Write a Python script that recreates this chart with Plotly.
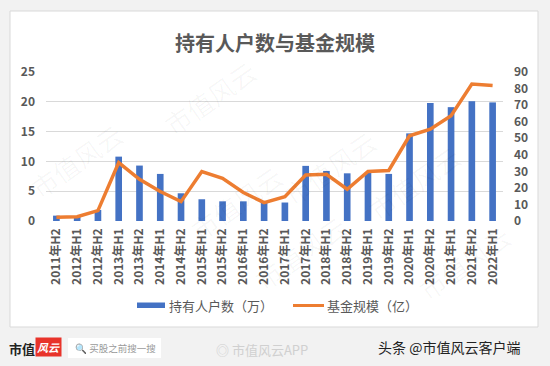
import plotly.graph_objects as go

categories = ["2011年H2", "2012年H1", "2012年H2", "2013年H1", "2013年H2", "2014年H1",
              "2014年H2", "2015年H1", "2015年H2", "2016年H1", "2016年H2", "2017年H1",
              "2017年H2", "2018年H1", "2018年H2", "2019年H1", "2019年H2", "2020年H1",
              "2020年H2", "2021年H1", "2021年H2", "2022年H1"]
holders = [0.9, 0.8, 1.85, 10.8, 9.3, 7.9, 4.65, 3.65, 3.3, 3.3, 3.25, 3.1,
           9.25, 8.4, 8.0, 8.1, 7.9, 14.7, 19.8, 19.1, 20.1, 19.9]
fund_size = [2.2, 2.6, 6.3, 35.3, 25.2, 17.8, 11.7, 29.9, 25.8, 17.2, 11.1, 14.7,
             27.8, 28.2, 19.2, 29.9, 30.5, 51.5, 55.5, 63.6, 82.7, 81.9]
left_ticks = [0, 5, 10, 15, 20, 25]
right_ticks = [0, 10, 20, 30, 40, 50, 60, 70, 80, 90]
series_names = ["持有人户数（万）", "基金规模（亿）"]

FONT = "Noto Sans CJK SC"
BLUE, ORANGE = "#4472C4", "#ED7D31"
W, H = 550, 366
L, R, T, B = 46, 47, 72, 145
PW, PH = W - L - R, H - T - B

def px_x(x):
    return (x - L) / PW

def px_y(y):
    return (H - B - y) / PH

fig = go.Figure()
fig.add_trace(go.Bar(x=categories, y=holders, name=series_names[0],
                     marker=dict(color=BLUE, line=dict(width=0)), yaxis="y"))
fig.add_trace(go.Scatter(x=categories, y=fund_size, name=series_names[1], mode="lines",
                         line=dict(color=ORANGE, width=3.5), yaxis="y2"))

annotations = [
    dict(text="<b>持有人户数与基金规模</b>", x=275, y=42, font=dict(size=20, color="#595959", family=FONT)),
    dict(text=series_names[0], x=167, y=305, xanchor="left", font=dict(size=13, color="#595959", family=FONT)),
    dict(text=series_names[1], x=325, y=305, xanchor="left", font=dict(size=13, color="#595959", family=FONT)),
    dict(text="<b>市值</b>", x=22, y=348, font=dict(size=13, color="#222222", family=FONT)),
    dict(text="<b><i>风云</i></b>", x=48, y=347, font=dict(size=11, color="#ffffff", family=FONT),
         bgcolor="#e8332a", borderpad=1),
    dict(text="🔍 买股之前搜一搜", x=115, y=348, font=dict(size=9.5, color="#9a9a9a", family=FONT)),
    dict(text="◎ 市值风云APP", x=262, y=349, font=dict(size=13, color="#d0d0d0", family=FONT)),
    dict(text="头条 @市值风云客户端", x=449, y=347, font=dict(size=14, color="#222222", family=FONT)),
]
ann = []
for a in annotations:
    d = dict(a)
    d["x"] = px_x(a["x"])
    d["y"] = px_y(a["y"])
    d.setdefault("xanchor", "center")
    d.update(xref="paper", yref="paper", showarrow=False, yanchor="middle")
    ann.append(d)

# faint watermarks
for (wx, wy) in [(20, 160), (210, 50), (180, 250), (330, 120), (470, 230), (300, 300), (520, 310)]:
    ann.append(dict(text="市值风云", x=px_x(wx), y=px_y(wy), xref="paper", yref="paper",
                    showarrow=False, textangle=-35, font=dict(size=26, color="rgba(0,0,0,0.035)", family=FONT)))

tickfont = dict(size=12, color="#595959", family=FONT, weight="bold")

fig.update_layout(
    width=W, height=H,
    margin=dict(l=L, r=R, t=T, b=B, autoexpand=False),
    paper_bgcolor="#f2f2f2",
    plot_bgcolor="#ffffff",
    font=dict(family=FONT, color="#595959"),
    bargap=0.68,
    showlegend=False,
    xaxis=dict(type="category", tickangle=-90, tickfont=tickfont, ticklabelstandoff=4,
               showgrid=False, showline=False, ticks=""),
    yaxis=dict(range=[0, 25], tickvals=left_ticks, showgrid=True, gridcolor="#d9d9d9",
               gridwidth=1, zeroline=False, tickfont=tickfont, ticklabelstandoff=10),
    yaxis2=dict(range=[0, 90], tickvals=right_ticks, overlaying="y", side="right",
                showgrid=False, zeroline=False, tickfont=tickfont, ticklabelstandoff=10),
    shapes=[
        dict(type="rect", xref="paper", yref="paper",
             x0=px_x(10), x1=px_x(538), y0=px_y(327), y1=px_y(11),
             fillcolor="#ffffff", line=dict(color="#d9d9d9", width=1), layer="below"),
        dict(type="rect", xref="paper", yref="paper",
             x0=px_x(68), x1=px_x(161), y0=px_y(358), y1=px_y(338),
             fillcolor="#ffffff", line=dict(width=0), layer="below"),
        # legend keys
        dict(type="rect", xref="paper", yref="paper",
             x0=px_x(137), x1=px_x(165), y0=px_y(308), y1=px_y(302.5),
             fillcolor=BLUE, line=dict(width=0)),
        dict(type="line", xref="paper", yref="paper",
             x0=px_x(293), x1=px_x(324), y0=px_y(305.5), y1=px_y(305.5),
             line=dict(color=ORANGE, width=3)),
    ],
    annotations=ann,
)

fig.write_html("out.html", config={"displayModeBar": False},
               post_script="document.body.style.margin='0';document.body.style.overflow='hidden';")
